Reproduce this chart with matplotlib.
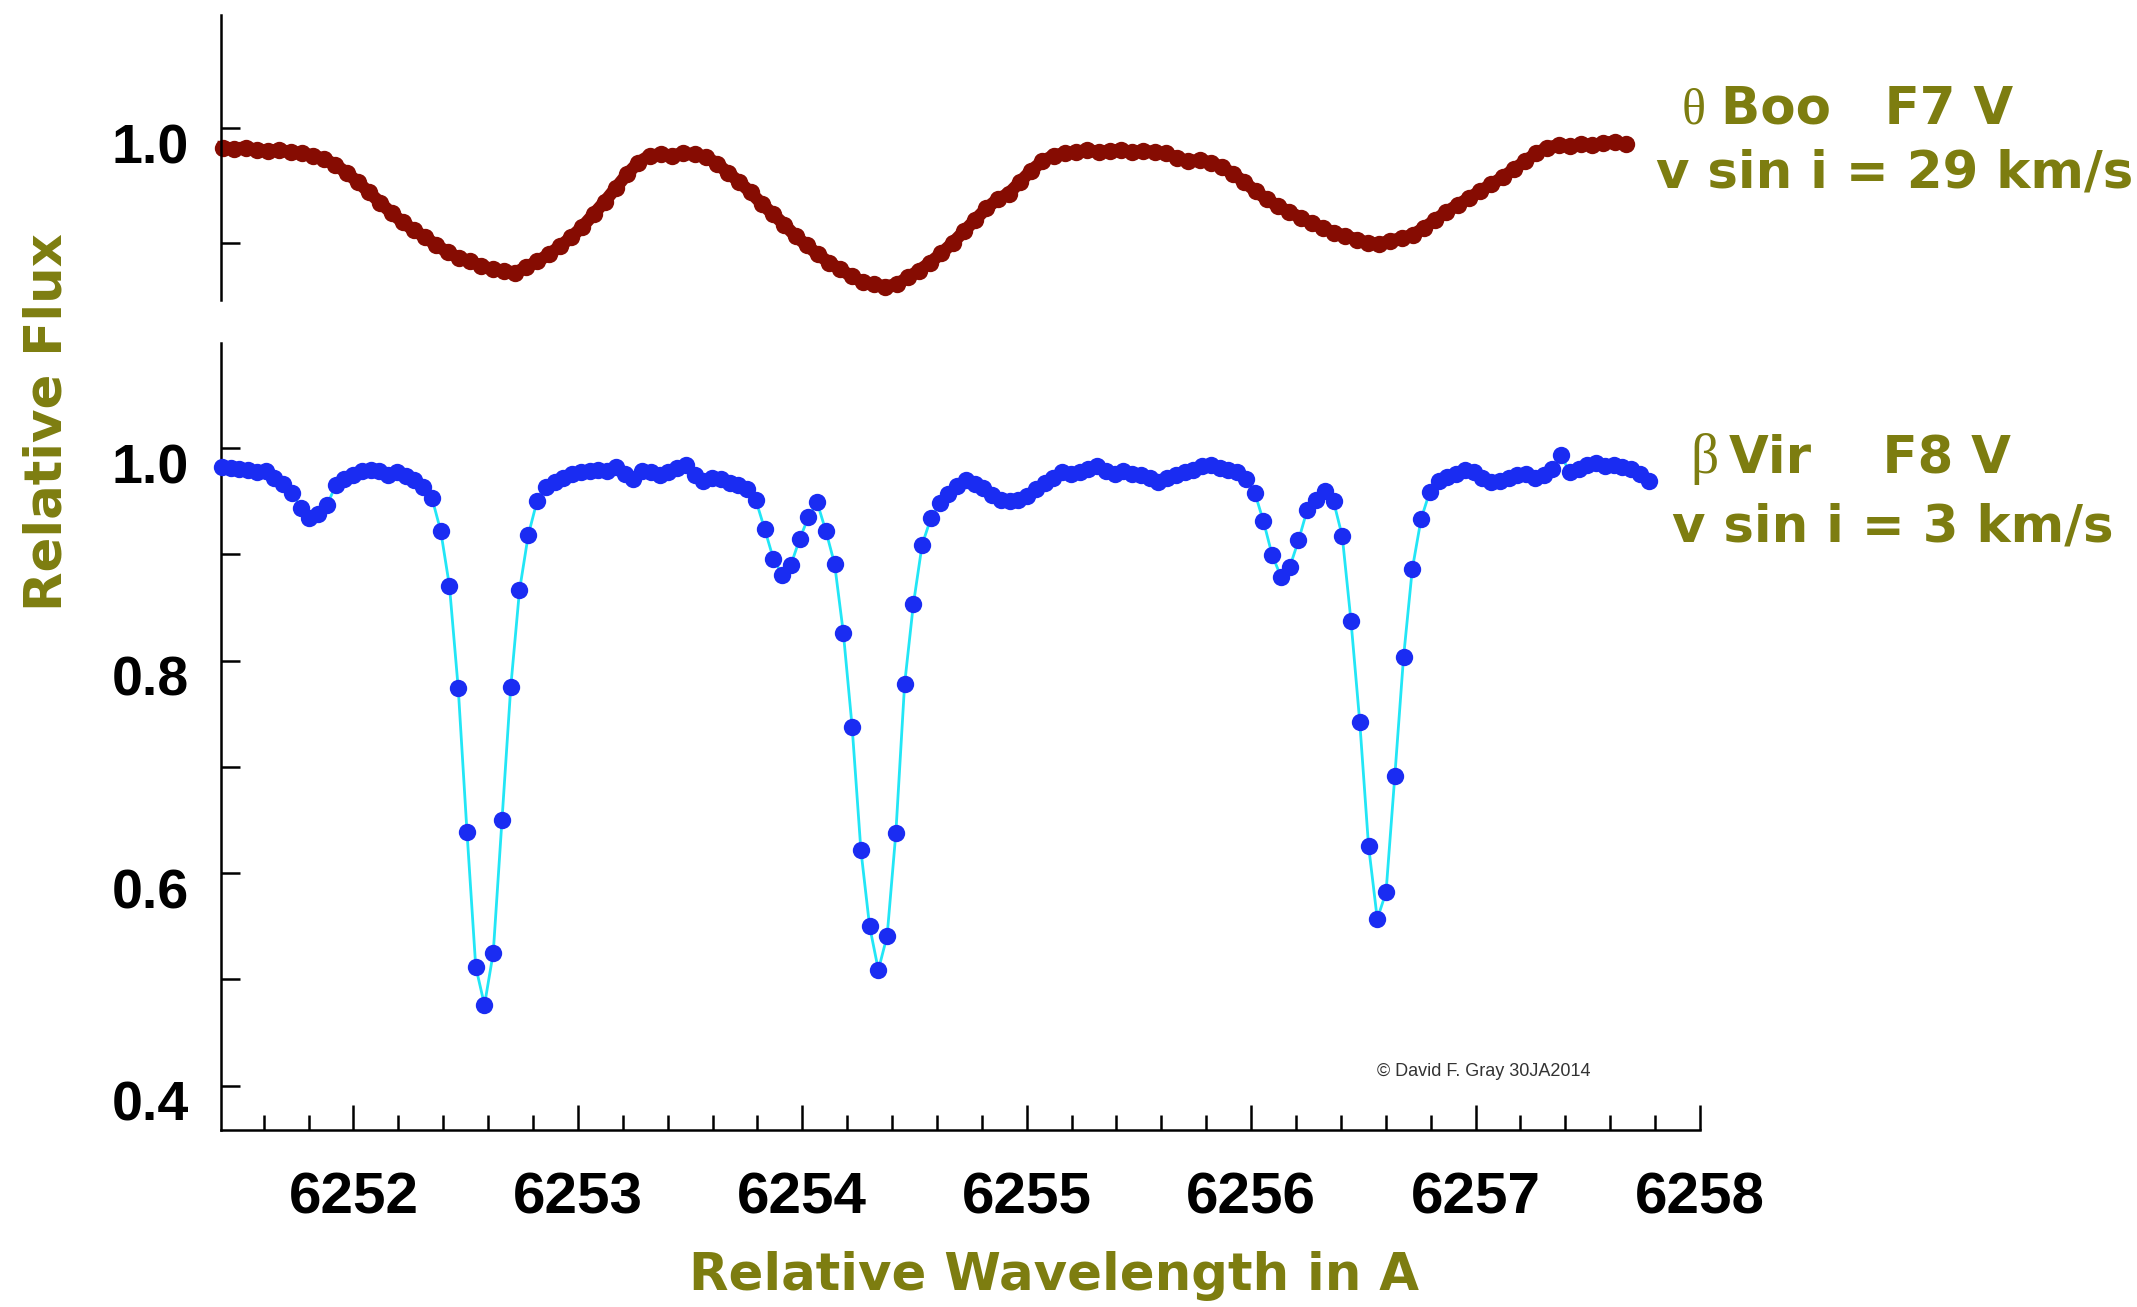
#!/usr/bin/env python3
"""Line profiles near 6254 A for a fast rotator (theta Boo) and a slow one (beta Vir).

Two stacked panels share the wavelength axis; the upper one shows the
rotationally smeared spectrum, the lower one the sharp-lined star.
"""

import matplotlib
matplotlib.use("Agg")
import matplotlib.pyplot as plt
import matplotlib.transforms as mtransforms
from matplotlib.ticker import MultipleLocator
import numpy as np

# theta Boo, F7 V, v sin i = 29 km/s  (read every 0.05 A from 6251.42)
theta_start = 6251.42
theta_step = 0.05
theta_flux = [
    0.983, 0.982, 0.983, 0.981, 0.980, 0.981, 0.979, 0.978, 0.976, 0.973,
    0.968, 0.961, 0.953, 0.944, 0.935, 0.926, 0.918, 0.911, 0.905, 0.898,
    0.892, 0.887, 0.884, 0.880, 0.877, 0.876, 0.874, 0.879, 0.884, 0.890,
    0.897, 0.905, 0.914, 0.925, 0.936, 0.948, 0.960, 0.970, 0.976, 0.977,
    0.976, 0.978, 0.977, 0.975, 0.969, 0.961, 0.953, 0.944, 0.934, 0.925,
    0.916, 0.906, 0.898, 0.890, 0.883, 0.877, 0.871, 0.866, 0.864, 0.862,
    0.864, 0.870, 0.876, 0.883, 0.891, 0.900, 0.910, 0.920, 0.930, 0.938,
    0.943, 0.953, 0.963, 0.971, 0.976, 0.978, 0.979, 0.981, 0.979, 0.980,
    0.981, 0.979, 0.980, 0.979, 0.978, 0.974, 0.971, 0.972, 0.970, 0.966,
    0.960, 0.953, 0.945, 0.938, 0.932, 0.927, 0.922, 0.917, 0.913, 0.909,
    0.906, 0.903, 0.900, 0.899, 0.902, 0.904, 0.907, 0.913, 0.920, 0.927,
    0.933, 0.939, 0.945, 0.951, 0.957, 0.964, 0.971, 0.978, 0.983, 0.985,
    0.984, 0.986, 0.985, 0.987, 0.988, 0.986,
]

# beta Vir, F8 V, v sin i = 3 km/s  (one point per 0.039 A from 6251.414)
beta_start = 6251.414
beta_step = 0.039
beta_flux = [
    0.982, 0.981, 0.980, 0.979, 0.977, 0.978, 0.972, 0.966, 0.958, 0.944,
    0.934, 0.938, 0.946, 0.965, 0.971, 0.975, 0.978, 0.979, 0.978, 0.975,
    0.977, 0.974, 0.970, 0.963, 0.953, 0.922, 0.870, 0.774, 0.639, 0.512,
    0.476, 0.525, 0.650, 0.775, 0.866, 0.918, 0.950, 0.963, 0.968, 0.972,
    0.976, 0.977, 0.978, 0.979, 0.978, 0.982, 0.976, 0.971, 0.978, 0.977,
    0.975, 0.977, 0.981, 0.984, 0.975, 0.969, 0.972, 0.971, 0.967, 0.965,
    0.961, 0.951, 0.924, 0.896, 0.881, 0.890, 0.914, 0.935, 0.949, 0.922,
    0.891, 0.826, 0.738, 0.622, 0.550, 0.509, 0.541, 0.638, 0.778, 0.853,
    0.909, 0.934, 0.948, 0.957, 0.964, 0.970, 0.966, 0.962, 0.956, 0.951,
    0.950, 0.951, 0.955, 0.961, 0.967, 0.972, 0.977, 0.976, 0.977, 0.980,
    0.983, 0.978, 0.976, 0.978, 0.976, 0.975, 0.972, 0.968, 0.972, 0.975,
    0.977, 0.979, 0.983, 0.984, 0.981, 0.979, 0.977, 0.971, 0.958, 0.931,
    0.899, 0.879, 0.888, 0.913, 0.942, 0.951, 0.960, 0.950, 0.917, 0.837,
    0.742, 0.626, 0.557, 0.582, 0.691, 0.803, 0.886, 0.933, 0.959, 0.969,
    0.973, 0.976, 0.979, 0.977, 0.972, 0.968, 0.969, 0.972, 0.975, 0.976,
    0.972, 0.975, 0.980, 0.993, 0.977, 0.980, 0.984, 0.986, 0.983, 0.984,
    0.982, 0.980, 0.976, 0.969,
]

wave_ticks = [6252, 6253, 6254, 6255, 6256, 6257, 6258]
wave_labels = ["6252", "6253", "6254", "6255", "6256", "6257", "6258"]
bot_flux_ticks = [0.4, 0.5, 0.6, 0.7, 0.8, 0.9, 1.0]
bot_flux_labels = ["0.4", "", "0.6", "", "0.8", "", "1.0"]
top_flux_ticks = [0.9, 1.0]
top_flux_labels = ["", "1.0"]

OLIVE = "#7d7d10"
DARK_RED = "#860c02"
BLUE = "#1a2cf2"
CYAN = "#22e6f6"

W, H = 2137, 1307

plt.rcParams["font.family"] = ["Liberation Sans", "DejaVu Sans"]
plt.rcParams["font.weight"] = "bold"


def px_box(x0, y0, x1, y1):
    """Axes rectangle in figure fraction from pixel corners (top-left origin)."""
    return [x0 / W, 1 - y1 / H, (x1 - x0) / W, (y1 - y0) / H]


def style_axis(ax, ticks, labels, ylim):
    for side in ("top", "right"):
        ax.spines[side].set_visible(False)
    ax.spines["left"].set_linewidth(1.8)
    ax.spines["bottom"].set_linewidth(1.8)
    ax.set_xlim(6251.41, 6258.0)
    ax.set_ylim(*ylim)
    ax.set_yticks(ticks)
    ax.set_yticklabels(labels)
    ax.tick_params(axis="y", direction="in", length=14, width=1.8,
                   labelsize=40, pad=23)
    # labels sit a little below their tick marks in the original
    shift = mtransforms.ScaledTranslation(0, -0.15, ax.figure.dpi_scale_trans)
    for t in ax.yaxis.get_major_ticks():
        t.label1.set_transform(t.label1.get_transform() + shift)


def main():
    theta_wave = theta_start + theta_step * np.arange(len(theta_flux))
    beta_wave = beta_start + beta_step * np.arange(len(beta_flux))

    fig = plt.figure(figsize=(W / 100, H / 100), dpi=100)
    ax_top = fig.add_axes(px_box(221, 15, 1700, 300))
    ax_bot = fig.add_axes(px_box(221, 343, 1700, 1130))

    # upper panel: broad, shallow profiles
    ax_top.plot(theta_wave, theta_flux, "-o", color=DARK_RED, lw=9, ms=12.5,
                mec="none", mfc=DARK_RED, clip_on=False)
    style_axis(ax_top, top_flux_ticks, top_flux_labels, (0.8504, 1.0983))
    ax_top.spines["bottom"].set_visible(False)
    ax_top.set_xticks([])

    # lower panel: sharp lines
    ax_bot.plot(beta_wave, beta_flux, "-", color=CYAN, lw=2, zorder=2)
    ax_bot.plot(beta_wave, beta_flux, "o", color=BLUE, ms=12.5, mec="none",
                zorder=3, clip_on=False)
    style_axis(ax_bot, bot_flux_ticks, bot_flux_labels, (0.3584, 1.0988))
    ax_bot.set_xticks(wave_ticks)
    ax_bot.set_xticklabels(wave_labels)
    ax_bot.xaxis.set_minor_locator(MultipleLocator(0.2))
    ax_bot.tick_params(axis="x", which="major", direction="in", length=18,
                       width=1.8, labelsize=42, pad=30)
    ax_bot.tick_params(axis="x", which="minor", direction="in", length=11,
                       width=1.8)

    label_kw = dict(color=OLIVE, fontsize=37, fontweight="bold",
                    family=["DejaVu Sans"])
    fig.text(48 / W, 1 - 422 / H, "Relative Flux", rotation=90,
             ha="center", va="center", **label_kw)
    fig.text(1054 / W, 1 - 1290 / H, "Relative Wavelength in A",
             ha="center", va="baseline", **label_kw)

    greek_kw = dict(color=OLIVE, fontweight="normal",
                    family=["Liberation Serif", "DejaVu Serif"])
    fig.text(1682 / W, 1 - 123 / H, "\u03b8", fontsize=36, va="baseline",
             **greek_kw)
    fig.text(1721 / W, 1 - 123 / H, "Boo   F7 V", va="baseline", **label_kw)
    fig.text(1656 / W, 1 - 188 / H, "v sin i = 29 km/s", va="baseline",
             **label_kw)
    fig.text(1690 / W, 1 - 473 / H, "\u03b2", fontsize=40, va="baseline",
             **greek_kw)
    fig.text(1729 / W, 1 - 473 / H, "Vir    F8 V", va="baseline", **label_kw)
    fig.text(1672 / W, 1 - 542 / H, "v sin i = 3 km/s", va="baseline",
             **label_kw)

    fig.text(1377 / W, 1 - 1076 / H, "\u00a9 David F. Gray 30JA2014",
             fontsize=13, fontweight="normal", color="#333333", va="baseline")

    fig.savefig("out.png", dpi=100)
    plt.close(fig)


if __name__ == "__main__":
    main()
